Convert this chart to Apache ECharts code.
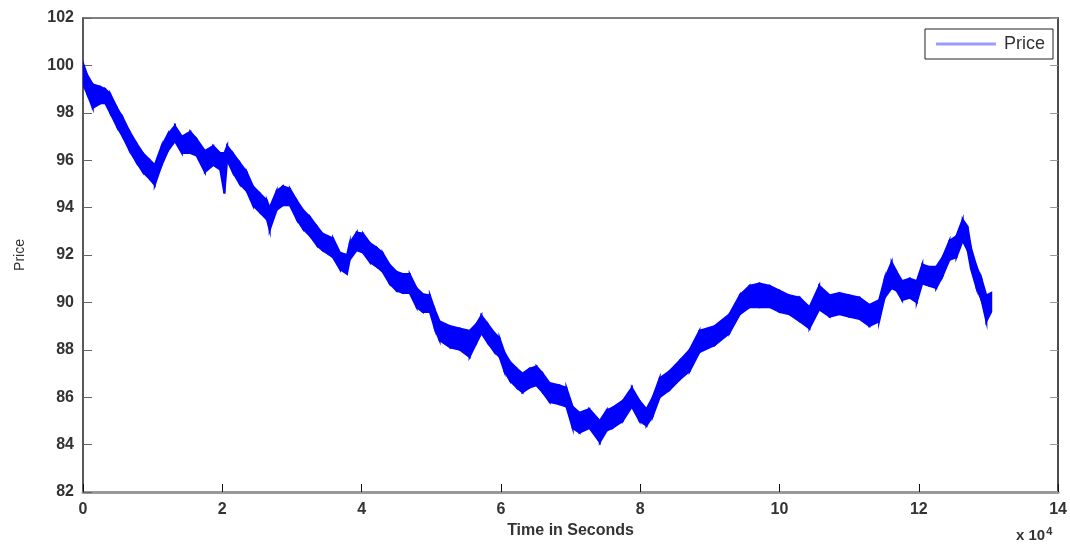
<!DOCTYPE html>
<html>
<head>
<meta charset="utf-8">
<script src="https://cdn.jsdelivr.net/npm/echarts@6/dist/echarts.min.js"></script>
<style>
html,body{margin:0;padding:0;background:#fff;}
#chart{width:1070px;height:544px;}
</style>
</head>
<body>
<div id="chart"></div>
<script>
// time in units of 10^4 seconds
const times = [0.00,0.06,0.14,0.25,0.32,0.39,0.49,0.57,0.67,0.77,0.86,0.96,1.03,1.13,1.22,1.32,1.42,1.54,1.63,1.75,1.87,1.97,2.03,2.07,2.15,2.25,2.35,2.44,2.54,2.64,2.68,2.78,2.87,2.97,3.07,3.16,3.26,3.36,3.44,3.59,3.69,3.79,3.83,3.93,4.02,4.12,4.22,4.30,4.40,4.50,4.59,4.69,4.79,4.88,4.98,5.05,5.12,5.27,5.41,5.55,5.65,5.72,5.81,5.91,5.98,6.05,6.13,6.23,6.31,6.41,6.51,6.60,6.70,6.84,6.94,7.03,7.13,7.27,7.42,7.52,7.60,7.75,7.88,7.99,8.09,8.18,8.28,8.42,8.57,8.71,8.85,9.07,9.28,9.43,9.57,9.71,9.86,10.00,10.14,10.29,10.43,10.57,10.72,10.86,11.00,11.15,11.29,11.43,11.51,11.61,11.68,11.76,11.87,11.97,12.05,12.15,12.25,12.34,12.44,12.54,12.63,12.70,12.75,12.83,12.90,12.97,13.04];
const highs = [100.1,99.6,99.2,99.1,99.0,98.8,98.2,97.8,97.2,96.7,96.3,96.0,95.8,96.6,97.1,97.45,97.0,97.2,96.9,96.4,96.6,96.3,96.3,96.6,96.3,95.9,95.5,94.9,94.6,94.3,94.0,94.7,94.9,94.8,94.3,93.9,93.6,93.2,92.9,92.7,92.1,92.0,92.5,92.95,92.9,92.5,92.3,92.1,91.6,91.3,91.2,91.2,90.6,90.35,90.3,89.7,89.2,89.0,88.9,88.8,89.1,89.45,89.1,88.7,88.5,87.9,87.5,87.2,87.0,87.2,87.3,87.0,86.6,86.5,86.4,85.6,85.35,85.5,85.0,85.45,85.55,85.85,86.4,85.85,85.5,86.0,86.8,87.1,87.55,88.0,88.8,89.0,89.5,90.3,90.7,90.8,90.7,90.5,90.3,90.2,89.8,90.7,90.3,90.4,90.3,90.2,89.9,90.1,91.0,91.7,91.3,90.9,91.0,90.9,91.6,91.5,91.5,91.9,92.6,92.8,93.5,93.2,92.3,91.5,91.0,90.3,90.4];
const lows = [99.2,98.8,98.2,98.4,98.4,98.0,97.4,97.0,96.4,95.9,95.5,95.2,94.95,95.8,96.4,96.8,96.3,96.3,96.2,95.5,95.8,95.6,94.6,96.0,95.5,95.0,94.7,94.1,93.8,93.5,93.05,93.9,94.1,94.1,93.5,93.1,92.8,92.4,92.2,91.9,91.4,91.2,91.8,92.2,92.1,91.7,91.5,91.3,90.8,90.5,90.4,90.4,89.8,89.6,89.6,88.9,88.4,88.1,88.0,87.7,88.3,88.7,88.3,87.9,87.7,87.1,86.7,86.4,86.2,86.4,86.5,86.2,85.8,85.7,85.6,84.7,84.5,84.7,84.1,84.6,84.7,85.0,85.6,85.0,84.8,85.2,86.0,86.3,86.75,87.1,87.9,88.2,88.7,89.5,89.8,89.8,89.8,89.6,89.5,89.2,88.9,89.7,89.4,89.5,89.4,89.3,89.0,89.2,90.2,90.6,90.5,90.1,90.2,90.0,90.8,90.7,90.6,91.1,91.8,91.9,92.6,92.2,91.4,90.6,90.1,89.2,89.6];
const xTicks = [0,2,4,6,8,10,12,14];
const yTicks = [82,84,86,88,90,92,94,96,98,100,102];

const BLUE = '#0000ff';
// one record per segment between consecutive readings
const segData = [];
for (let i = 0; i < times.length - 1; i++) {
  segData.push([times[i]*10000, highs[i], lows[i], times[i+1]*10000, highs[i+1], lows[i+1]]);
}

function renderBand(params, api) {
  const a = api.coord([api.value(0), api.value(1)]);
  const b = api.coord([api.value(0), api.value(2)]);
  const c = api.coord([api.value(3), api.value(5)]);
  const d = api.coord([api.value(3), api.value(4)]);
  return {
    type:'polygon',
    shape:{points:[a,b,c,d]},
    style:{fill:BLUE, stroke:BLUE, lineWidth:2}
  };
}

const chart = echarts.init(document.getElementById('chart'), null, {renderer:'canvas'});
const labelFont = {fontFamily:'Liberation Sans, Arial, sans-serif', fontSize:16, fontWeight:'bold', color:'#333'};
chart.setOption({
  animation:false,
  backgroundColor:'#fff',
  grid:{left:83, right:11, top:18, bottom:52, containLabel:false},
  legend:{
    right:17, top:29, orient:'horizontal',
    padding:[6,8,6,11],
    borderColor:'#222', borderWidth:1, backgroundColor:'#fff',
    itemWidth:60, itemHeight:3, itemGap:8,
    textStyle:{fontFamily:'Liberation Sans, Arial, sans-serif', fontSize:18, color:'#333', padding:[0,0,0,3]},
    data:[{name:'Price', icon:'rect', itemStyle:{color:'#9a9aff'}}]
  },
  xAxis:[{
    type:'value', min:0, max:140000, interval:20000,
    name:'Time in Seconds', nameLocation:'middle', nameGap:27,
    nameTextStyle:labelFont,
    axisLine:{show:true, onZero:false, lineStyle:{color:'#999', width:3}},
    axisTick:{show:true, inside:true, length:8, lineStyle:{color:'#111'}},
    axisLabel:Object.assign({margin:10, formatter:v=>String(v/10000)}, labelFont),
    splitLine:{show:false}
  },{
    type:'value', position:'top', min:0, max:140000, interval:20000,
    axisLine:{show:true, onZero:false, lineStyle:{color:'#555', width:1.5}},
    axisTick:{show:false},
    axisLabel:{show:false}, splitLine:{show:false}
  }],
  yAxis:[{
    type:'value', min:82, max:102, interval:2,
    name:'Price', nameLocation:'middle', nameGap:56, nameRotate:90,
    nameTextStyle:{fontFamily:'Liberation Sans, Arial, sans-serif', fontSize:14, color:'#333'},
    axisLine:{show:true, onZero:false, lineStyle:{color:'#222', width:1.5}},
    axisTick:{show:true, inside:true, length:9, lineStyle:{color:'#666'}},
    axisLabel:Object.assign({margin:9}, labelFont),
    splitLine:{show:false}
  },{
    type:'value', position:'right', min:82, max:102, interval:2,
    axisLine:{show:true, onZero:false, lineStyle:{color:'#111', width:1.5}},
    axisTick:{show:true, inside:true, length:8, lineStyle:{color:'#999'}},
    axisLabel:{show:false}, splitLine:{show:false}
  }],
  graphic:[{
    type:'text', left:1016, top:526,
    style:{
      text:'x 10{s|4}',
      font:'bold 15px Liberation Sans, Arial, sans-serif',
      fill:'#333',
      rich:{s:{fontSize:11, fontWeight:'bold', verticalAlign:'top', padding:[0,0,8,1], fill:'#333'}}
    }
  }],
  series:[{
    name:'Price', type:'custom', xAxisIndex:0, yAxisIndex:0,
    data:segData,
    encode:{x:[0,3], y:[1,2,4,5]},
    renderItem:renderBand,
    itemStyle:{color:BLUE},
    clip:true, silent:true
  }]
});
</script>
</body>
</html>
